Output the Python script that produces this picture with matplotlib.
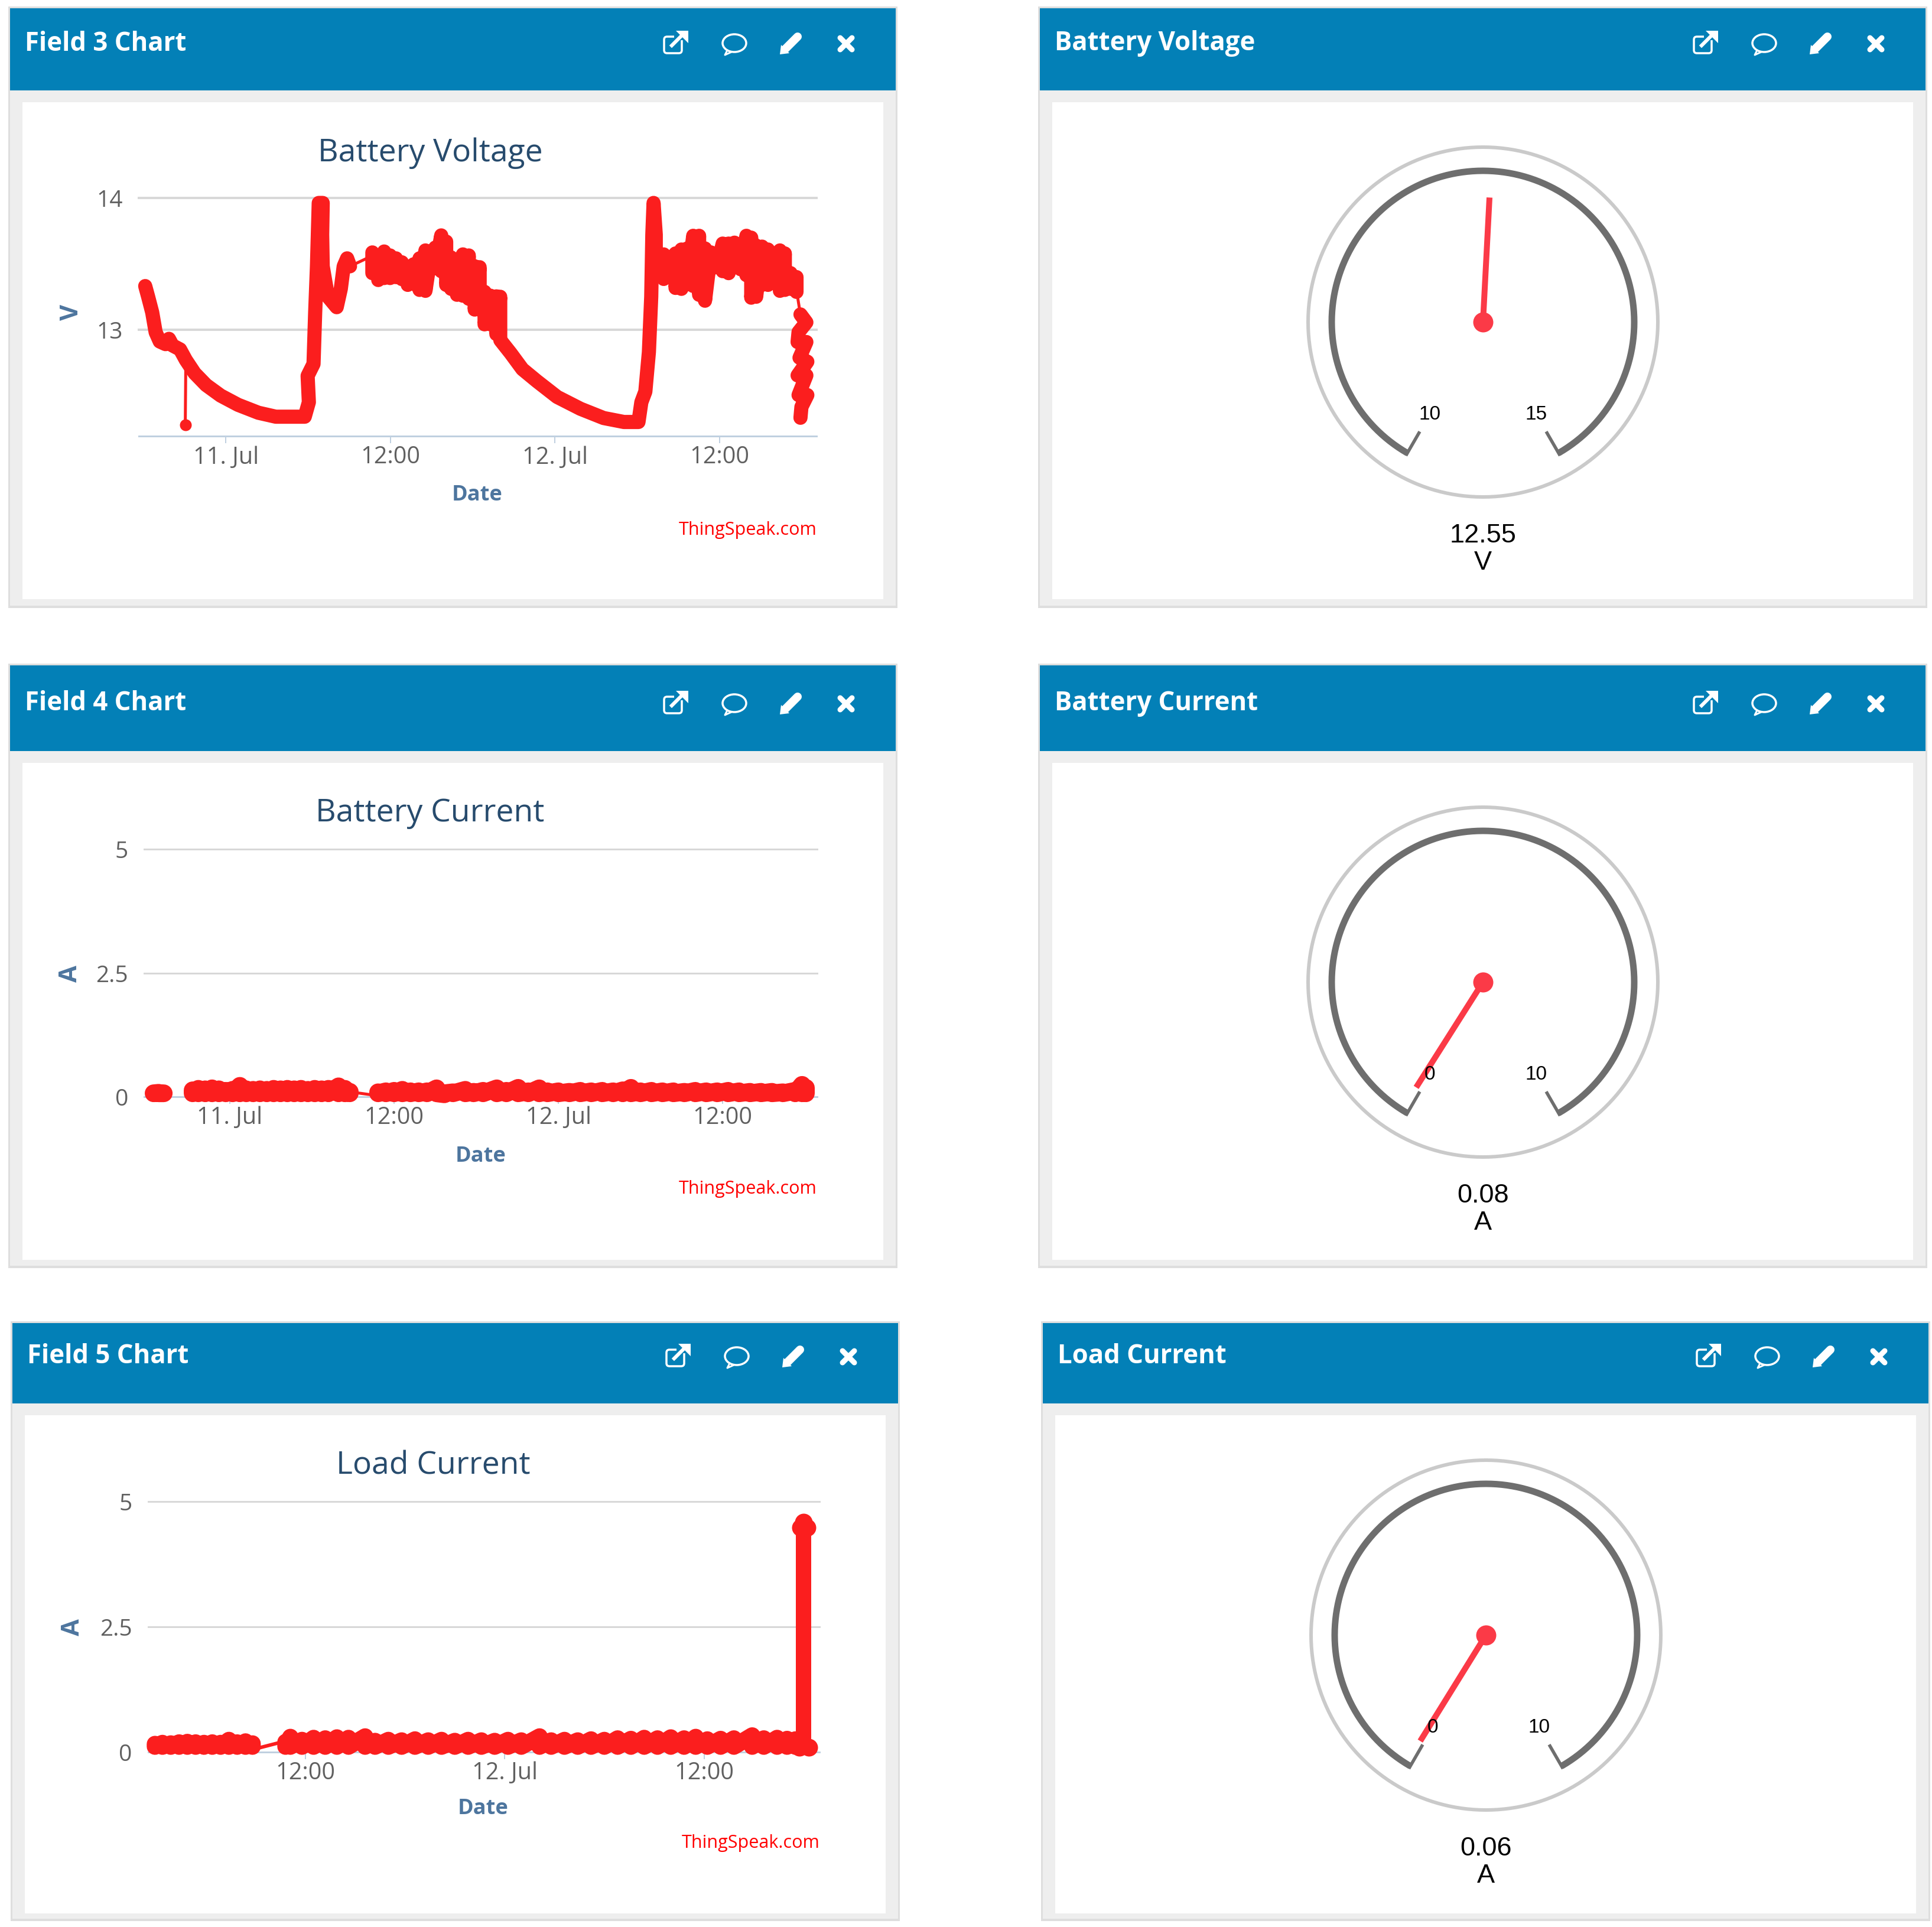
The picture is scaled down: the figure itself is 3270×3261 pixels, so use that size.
# ThingSpeak dashboard: three field charts with matching gauges
import numpy as np
import matplotlib
matplotlib.use('Agg')
import matplotlib.pyplot as plt
from matplotlib.patches import Rectangle, Ellipse, Polygon, FancyBboxPatch

W, H = 3270, 3262
plt.rcParams['font.family'] = ['Open Sans', 'DejaVu Sans']

# Time is in hours since 11 Jul 00:00.
tick_hours = [0, 12, 24, 36]
tick_labels = ['11. Jul', '12:00', '12. Jul', '12:00']

# Battery voltage: first discharge and charge ramp.
volt_h_a = [-5.88, -5.67, -5.37, -5.12, -4.82, -4.40, -4.15, -3.89, -3.34, -2.92, -2.28, -1.44,
            -0.38, 0.89, 2.37, 3.64, 4.91, 5.75, 6.05, 5.96, 6.39, 6.51, 6.64, 6.77, 7.06, 7.02,
            7.06, 7.44, 8.08, 8.38, 8.59, 8.84, 9.05]
volt_v_a = [13.33, 13.25, 13.13, 12.98, 12.91, 12.89, 12.93, 12.88, 12.85, 12.77, 12.67, 12.58,
            12.50, 12.43, 12.37, 12.34, 12.34, 12.34, 12.45, 12.65, 12.74, 13.13, 13.48, 13.96,
            13.96, 13.72, 13.48, 13.25, 13.17, 13.31, 13.48, 13.54, 13.48]
# First noisy daytime band, upper and lower envelope of the readings.
volt_h_n1 = [10.68, 11.11, 11.54, 11.97, 12.40, 12.83, 13.26, 13.69, 14.12, 14.55, 14.98, 15.27,
             15.70, 16.06, 16.42, 16.85, 17.28, 17.71, 18.14, 18.50, 18.86, 19.29, 19.72, 20.00]
volt_hi_n1 = [13.585, 13.562, 13.592, 13.562, 13.540, 13.510, 13.473, 13.495, 13.540, 13.600,
              13.592, 13.622, 13.714, 13.667, 13.547, 13.533, 13.570, 13.562, 13.480, 13.473,
              13.286, 13.257, 13.252, 13.249]
volt_lo_n1 = [13.428, 13.376, 13.391, 13.391, 13.398, 13.383, 13.339, 13.346, 13.301, 13.294,
              13.458, 13.473, 13.443, 13.339, 13.309, 13.264, 13.257, 13.234, 13.152, 13.152,
              13.040, 13.040, 12.966, 12.936]
# Second discharge and charge ramp.
volt_h_b = [20.01, 20.77, 21.62, 22.67, 24.15, 25.85, 27.54, 29.02, 30.08, 30.29, 30.58, 30.84,
            31.01, 31.09, 31.18, 31.34, 31.34, 31.77]
volt_v_b = [12.92, 12.82, 12.70, 12.61, 12.49, 12.40, 12.33, 12.30, 12.30, 12.45, 12.53, 12.83,
            13.25, 13.72, 13.96, 13.72, 13.54, 13.45]
# Second noisy daytime band.
volt_h_n2 = [31.92, 32.35, 32.78, 33.21, 33.64, 34.07, 34.50, 34.93, 35.36, 35.79, 36.22, 36.65,
             37.08, 37.52, 37.95, 38.30, 38.66, 39.09, 39.52, 39.96, 40.39, 40.75, 41.17, 41.60]
volt_hi_n2 = [13.570, 13.518, 13.577, 13.607, 13.615, 13.711, 13.711, 13.615, 13.585, 13.570,
              13.652, 13.652, 13.659, 13.644, 13.711, 13.697, 13.637, 13.629, 13.607, 13.577,
              13.600, 13.577, 13.428, 13.398]
volt_lo_n2 = [13.384, 13.421, 13.316, 13.309, 13.346, 13.331, 13.264, 13.219, 13.458, 13.473,
              13.443, 13.428, 13.480, 13.458, 13.413, 13.242, 13.249, 13.339, 13.339, 13.369,
              13.294, 13.301, 13.309, 13.286]
# Scatter at the very end of the series.
volt_h_c = [41.89, 42.32, 41.75, 41.68, 42.32, 41.82, 42.39, 41.68, 42.32, 41.75, 42.39, 41.96, 41.89]
volt_v_c = [13.115, 13.055, 12.981, 12.906, 12.906, 12.787, 12.757, 12.653, 12.653, 12.504, 12.504,
            12.414, 12.332]
# Sparse readings drawn with the thin line only.
volt_gap_h = [[9.05, 10.68], [41.60, 41.89], [-2.92, -2.96]]
volt_gap_v = [[13.48, 13.56], [13.30, 13.11], [12.77, 12.28]]
volt_dot_h = [-2.96]
volt_dot_v = [12.28]

# Battery current, upper envelope over the common floor.
curr_floor = 0.07
curr_h_a = [-5.57, -5.2, -4.83]
curr_a_a = [0.07, 0.08, 0.07]
curr_h_b = [-2.72, -2.3, -1.8, -1.3, -0.8, -0.3, 0.2, 0.73, 1.2, 1.7, 2.2, 2.7, 3.2, 3.7, 4.2,
            4.7, 5.2, 5.7, 6.2, 6.7, 7.2, 7.94, 8.4, 8.76]
curr_a_b = [0.13, 0.16, 0.15, 0.17, 0.15, 0.12, 0.14, 0.22, 0.15, 0.14, 0.15, 0.14, 0.16, 0.15,
            0.16, 0.15, 0.16, 0.14, 0.16, 0.15, 0.16, 0.21, 0.16, 0.10]
curr_h_c = [10.83, 11.4, 12.0, 12.6, 13.2, 13.8, 14.4, 15.1, 15.67, 16.3, 17.2, 17.8, 18.5, 19.5,
            20.2, 21.06, 21.8, 22.6, 23.2, 24.0, 24.8, 25.6, 26.4, 27.2, 28.0, 28.7, 29.3, 30.0,
            30.8, 31.6, 32.4, 33.2, 34.0, 34.8, 35.6, 36.4, 37.2, 38.0, 38.8, 39.6, 40.4, 41.3,
            41.8, 42.08]
curr_a_c = [0.09, 0.11, 0.12, 0.14, 0.11, 0.11, 0.11, 0.17, 0.05, 0.09, 0.14, 0.10, 0.12, 0.17,
            0.12, 0.18, 0.11, 0.17, 0.11, 0.11, 0.10, 0.12, 0.11, 0.12, 0.11, 0.13, 0.18, 0.11,
            0.12, 0.11, 0.11, 0.10, 0.12, 0.11, 0.11, 0.12, 0.11, 0.10, 0.10, 0.10, 0.09, 0.12,
            0.24, 0.18]
curr_gap_h = [8.76, 10.83]
curr_gap_a = [0.10, 0.02]

# Load current, upper envelope over the common floor.
load_floor = 0.11
load_h_a = [2.95, 3.4, 3.9, 4.4, 4.9, 5.4, 5.9, 6.4, 6.9, 7.4, 7.9, 8.4, 8.82]
load_a_a = [0.16, 0.18, 0.17, 0.19, 0.20, 0.19, 0.18, 0.19, 0.18, 0.24, 0.19, 0.21, 0.17]
load_h_b = [10.81, 11.1, 11.8, 12.5, 13.2, 13.9, 14.6, 15.6, 16.2, 17.0, 17.8, 18.6, 19.4, 20.2,
            21.0, 21.8, 22.6, 23.4, 24.2, 25.0, 26.1, 26.8, 27.6, 28.4, 29.2, 30.0, 30.8, 31.6,
            32.4, 33.2, 34.0, 34.8, 35.5, 36.2, 37.0, 37.8, 38.9, 39.6, 40.4, 41.0, 41.5]
load_a_b = [0.20, 0.30, 0.24, 0.28, 0.27, 0.29, 0.28, 0.31, 0.22, 0.24, 0.23, 0.25, 0.23, 0.24,
            0.22, 0.24, 0.23, 0.22, 0.24, 0.23, 0.31, 0.23, 0.24, 0.23, 0.25, 0.24, 0.27, 0.26,
            0.28, 0.27, 0.29, 0.27, 0.30, 0.25, 0.26, 0.27, 0.33, 0.27, 0.28, 0.26, 0.25]
load_gap_h = [8.82, 10.81]
load_gap_a = [0.05, 0.22]
load_spike_h = [41.5, 42.0, 42.0]
load_spike_a = [0.15, 0.15, 4.50]
load_dot_h = [41.8, 42.2, 42.0, 41.75, 42.3]
load_dot_a = [4.48, 4.48, 4.58, 0.10, 0.10]

# Gauges.
gauge_values = [12.55, 0.08, 0.06]
gauge_mins = [10, 0, 0]
gauge_maxs = [15, 10, 10]
gauge_units = ['V', 'A', 'A']
gauge_strs = ['12.55', '0.08', '0.06']

left_headers = ['Field 3 Chart', 'Field 4 Chart', 'Field 5 Chart']
right_headers = ['Battery Voltage', 'Battery Current', 'Load Current']

BLUE = '#0380b7'
RED = '#fb1e1e'
NEEDLE = '#fb3a47'
GRAY_TXT = '#606060'
AXIS_BLUE = '#c0d0e0'
TITLE = '#274b6d'
LABEL = '#4d759e'


def px(n):
    return n * 0.72


def axes_px(x0, y0, x1, y1, **kw):
    return fig.add_axes([x0 / W, 1 - y1 / H, (x1 - x0) / W, (y1 - y0) / H], **kw)


def trace(ax, h, v, lw):
    ax.plot(h, v, color=RED, lw=px(lw), solid_capstyle='round', solid_joinstyle='round',
            clip_on=False, zorder=5)


def band(ax, h, hi, lo, lw):
    # zigzag between the two envelopes; a thick line fills the band
    trace(ax, np.column_stack((h, h)).ravel(), np.column_stack((hi, lo)).ravel(), lw)


fig = plt.figure(figsize=(W / 100, H / 100), dpi=100, facecolor='white')
page = axes_px(0, 0, W, H)
page.set_xlim(0, W)
page.set_ylim(H, 0)
page.axis('off')


def panel(x0, top, blue_bottom, white_top, white_bottom, grey_bottom, text, text_y):
    page.add_patch(Rectangle((x0 - 3, top - 3), 1505, grey_bottom - top + 6, fc='#dedede', ec='none'))
    page.add_patch(Rectangle((x0, top), 1499, grey_bottom - top - 1, fc='#eeeeee', ec='none'))
    page.add_patch(Rectangle((x0, top), 1499, blue_bottom - top, fc=BLUE, ec='none'))
    page.add_patch(Rectangle((x0 + 21, white_top), 1457, white_bottom - white_top, fc='white', ec='none'))
    page.text(x0 + 25, text_y + 4, text, color='white', fontsize=31.5, fontweight='bold', va='center', ha='left')
    icons(x0, text_y + 5)


def icons(x0, y):
    # external link
    x = x0 + 1126
    page.add_patch(FancyBboxPatch((x - 19, y - 12), 30, 28, boxstyle='round,pad=0,rounding_size=5',
                                  fc='none', ec='white', lw=px(3.5)))
    page.add_patch(Rectangle((x - 2, y - 22), 26, 16, fc=BLUE, ec='none'))
    page.plot([x - 6, x + 12], [y + 3, y - 15], color='white', lw=px(6))
    page.add_patch(Polygon([[x + 1, y - 22], [x + 22, y - 22], [x + 22, y - 1]], fc='white', ec='none'))
    # speech bubble
    x = x0 + 1226
    page.add_patch(Ellipse((x, y - 1), 40, 30, fc='none', ec='white', lw=px(3.5)))
    page.plot([x - 12, x - 16, x - 5], [y + 11, y + 19, y + 14], color='white', lw=px(3))
    # pencil
    x = x0 + 1321
    page.plot([x - 9, x + 12], [y + 9, y - 12], color='white', lw=px(14), solid_capstyle='round')
    page.add_patch(Polygon([[x - 18, y + 18], [x - 16, y + 2], [x - 2, y + 16]], fc='white', ec='none'))
    # close
    x = x0 + 1415
    page.plot([x - 10, x + 10], [y - 10, y + 10], color='white', lw=px(9), solid_capstyle='round')
    page.plot([x - 10, x + 10], [y + 10, y - 10], color='white', lw=px(9), solid_capstyle='round')


def chart_axes(rect, xlim, ylim, yticks, ylabels, xticks, xlabels, grid_px, ypad):
    ax = axes_px(*rect)
    ax.patch.set_alpha(0)
    ax.set_xlim(xlim)
    ax.set_ylim(ylim)
    for name in ['top', 'left', 'right']:
        ax.spines[name].set_visible(False)
    ax.spines['bottom'].set_color(AXIS_BLUE)
    ax.spines['bottom'].set_linewidth(px(3))
    ax.set_yticks(yticks, ylabels)
    ax.set_xticks(xticks, xlabels)
    ax.tick_params(axis='y', length=0, pad=px(ypad), labelsize=28, labelcolor=GRAY_TXT)
    ax.tick_params(axis='x', length=px(12), width=px(2), color=AXIS_BLUE, pad=px(3),
                   labelsize=28.5, labelcolor=GRAY_TXT)
    ax.grid(axis='y', color='#d8d8d8', lw=px(grid_px))
    ax.set_axisbelow(True)
    for line in ax.get_ygridlines():
        line.set_clip_on(False)
    return ax


def chart_text(title, title_x, title_y, date_x, date_y, brand_x, brand_y, unit, unit_x, unit_y):
    page.text(title_x, title_y + 4, title, color=TITLE, fontsize=38.5, ha='center', va='center')
    page.text(date_x, date_y + 4, 'Date', color=LABEL, fontsize=26, fontweight='bold', ha='center', va='center')
    page.text(brand_x + 2, brand_y + 2, 'ThingSpeak.com', color='#ff0000', fontsize=22, ha='right', va='center')
    page.text(unit_x + 4, unit_y, unit, color=LABEL, fontsize=30, fontweight='bold', rotation=90,
              ha='center', va='center')


def gauge(cx, cy, value, vmin, vmax, value_str, unit):
    ax = axes_px(cx - 300, cy - 300, cx + 300, cy + 300, projection='polar')
    ax.patch.set_alpha(0)
    ax.set_theta_zero_location('N')
    ax.set_theta_direction(-1)
    ax.set_rlim(0, 300)
    ax.axis('off')
    end = np.radians(150)
    ring = np.linspace(0, 2 * np.pi, 361)
    ax.plot(ring, np.full_like(ring, 296), color='#cacaca', lw=px(6))
    arc = np.linspace(-end, end, 301)
    ax.plot(arc, np.full_like(arc, 256), color='#6e6e6e', lw=px(11), solid_capstyle='butt')
    for sign in [-1, 1]:
        ax.plot([sign * end, sign * end], [261, 214], color='#6e6e6e', lw=px(5.5), solid_capstyle='butt')
    ax.text(-end, 180, str(vmin), fontsize=24, family='Liberation Sans', ha='center', va='center', color='black')
    ax.text(end, 180, str(vmax), fontsize=24, family='Liberation Sans', ha='center', va='center', color='black')
    # needle angle comes from the value on the gauge scale
    theta = np.radians(-150 + 300 * (value - vmin) / (vmax - vmin))
    ax.plot([theta, theta], [0, 211], color=NEEDLE, lw=px(10), solid_capstyle='butt')
    ax.plot([0], [0], 'o', color=NEEDLE, ms=px(34), mew=0)
    page.text(cx, cy + 361, value_str, fontsize=32.5, family='Liberation Sans', ha='center', va='center', color='black')
    page.text(cx, cy + 407, unit, fontsize=32.5, family='Liberation Sans', ha='center', va='center', color='black')


# Panel frames
rows = [(15, 154, 174, 1015, 1027, 70), (1127, 1272, 1292, 2133, 2144, 1187), (2240, 2376, 2396, 3239, 3249, 2292)]
left_x = [17, 17, 21]
right_x = [1760, 1760, 1765]
for i, row in enumerate(rows):
    panel(left_x[i], row[0], row[1], row[2], row[3], row[4], left_headers[i], row[5])
    panel(right_x[i], row[0], row[1], row[2], row[3], row[4], right_headers[i], row[5])

# Battery voltage chart
LW1 = 24
ax1 = chart_axes((235, 335.5, 1382, 739), (-6.345, 43.06), (12.193, 14), [13, 14], ['13', '14'],
                 tick_hours, tick_labels, 4, 27)
for h, v in zip(volt_gap_h, volt_gap_v):
    trace(ax1, h, v, 5)
ax1.plot(volt_dot_h, volt_dot_v, 'o', color=RED, ms=px(20), mew=0, clip_on=False, zorder=5)
trace(ax1, volt_h_a, volt_v_a, LW1)
trace(ax1, volt_h_b, volt_v_b, LW1)
trace(ax1, volt_h_c, volt_v_c, LW1)
band(ax1, volt_h_n1, volt_hi_n1, volt_lo_n1, LW1)
band(ax1, volt_h_n2, volt_hi_n2, volt_lo_n2, LW1)
chart_text('Battery Voltage', 728, 255, 808, 834, 1381, 895, 'V', 118, 529)

# Battery current chart
ax2 = chart_axes((244, 1438, 1383, 1857), (-6.26, 42.9), (0, 5), [0, 2.5, 5], ['0', '2.5', '5'],
                 tick_hours, tick_labels, 3, 27)
trace(ax2, curr_gap_h, curr_gap_a, 5)
for h, v in [(curr_h_a, curr_a_a), (curr_h_b, curr_a_b), (curr_h_c, curr_a_c)]:
    band(ax2, h, v, np.full(len(h), curr_floor), 30)
chart_text('Battery Current', 728, 1372, 814, 1953, 1381, 2010, 'A', 115, 1648)

# Load current chart
ax3 = chart_axes((250.5, 2541.6, 1387, 2966), (2.53, 42.95), (0, 5), [0, 2.5, 5], ['0', '2.5', '5'],
                 tick_hours[1:], tick_labels[1:], 3, 27)
trace(ax3, load_gap_h, load_gap_a, 6)
for h, v in [(load_h_a, load_a_a), (load_h_b, load_a_b)]:
    band(ax3, h, v, np.full(len(h), load_floor), 28)
trace(ax3, load_spike_h, load_spike_a, 26)
ax3.plot(load_dot_h, load_dot_a, 'o', color=RED, ms=px(30), mew=0, clip_on=False, zorder=5)
chart_text('Load Current', 733, 2477, 818, 3057, 1386, 3117, 'A', 120, 2754)

# Gauges
centers = [(2510, 546), (2510, 1663), (2515, 2768)]
for i, (cx, cy) in enumerate(centers):
    gauge(cx, cy, gauge_values[i], gauge_mins[i], gauge_maxs[i], gauge_strs[i], gauge_units[i])

fig.savefig('out.png', dpi=100)
